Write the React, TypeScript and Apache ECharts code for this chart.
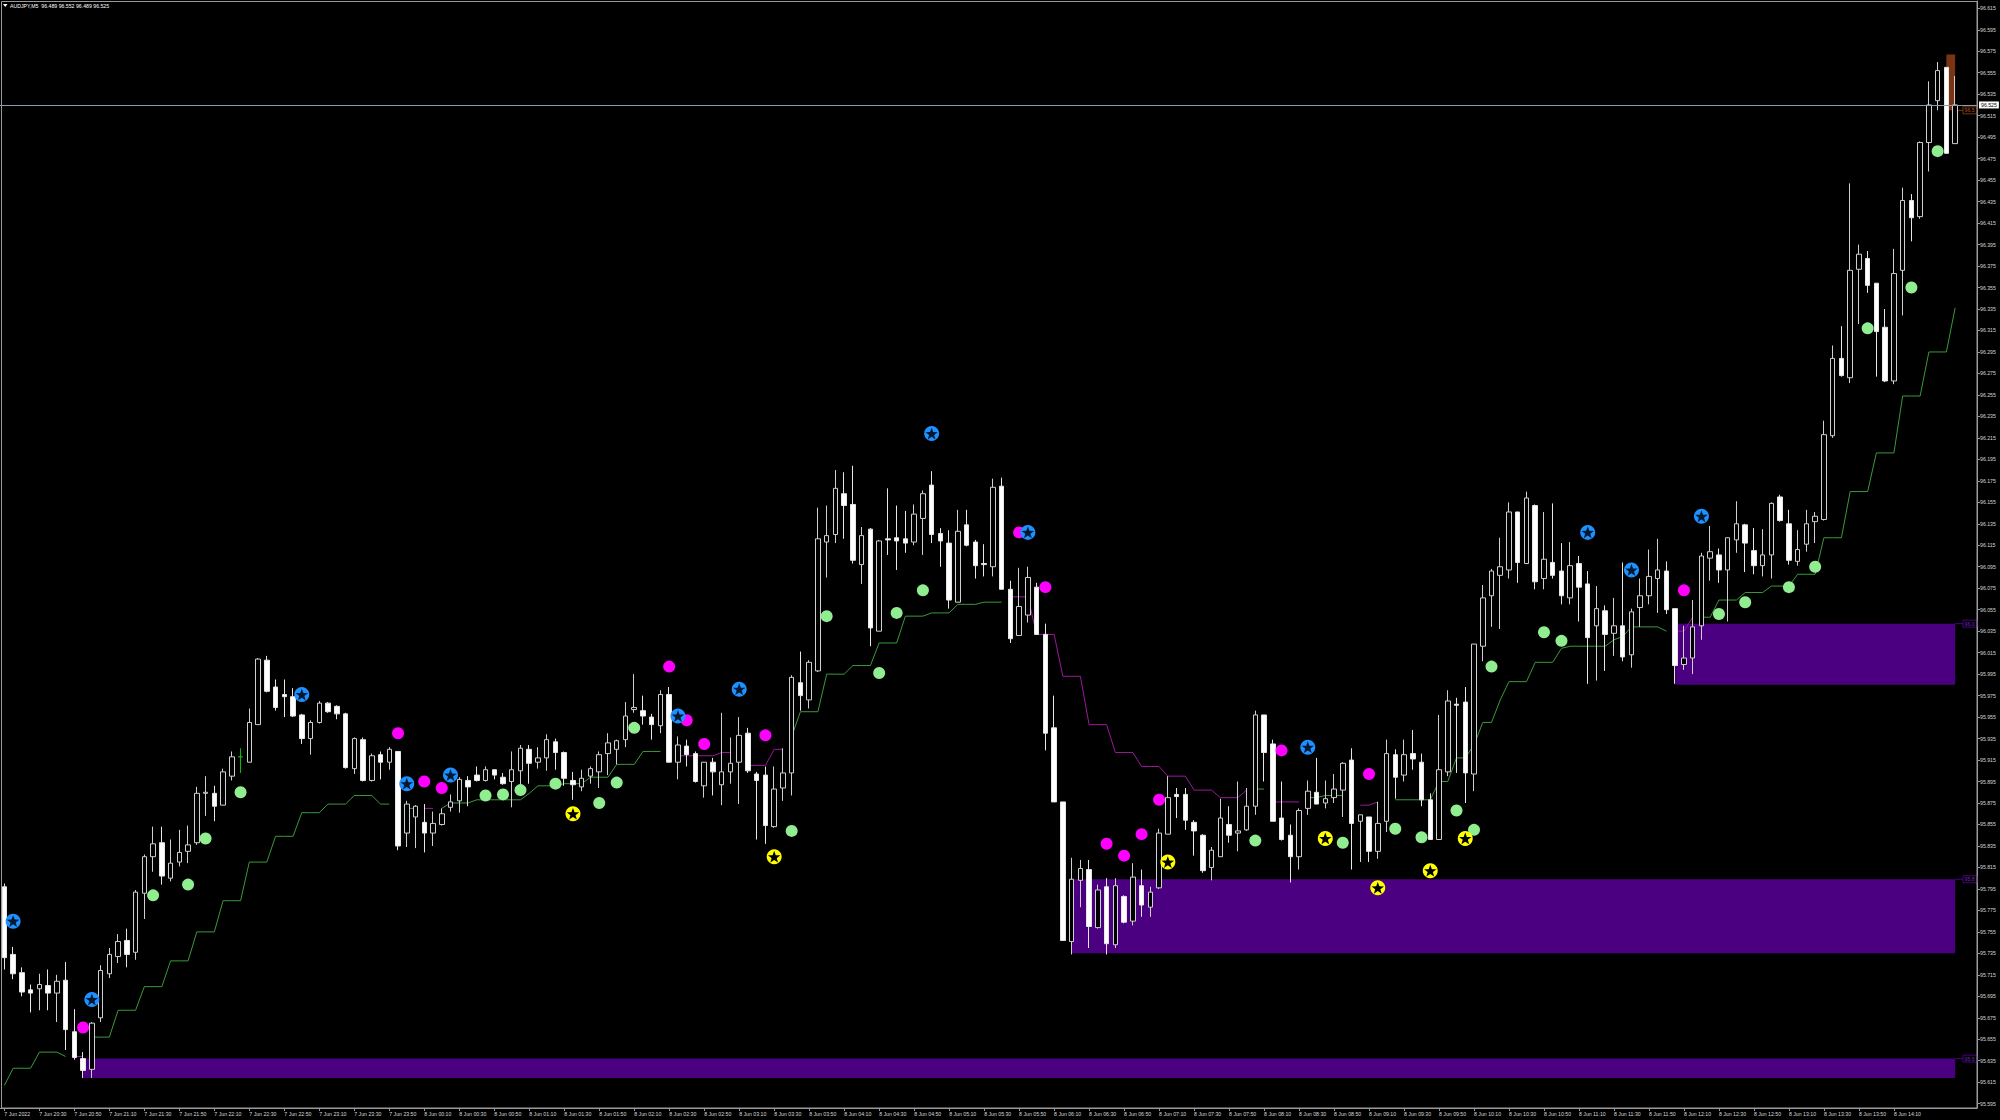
import React, { useEffect, useRef } from 'react';
import * as echarts from 'echarts';

const SYMBOL = 'AUDJPY';
const TIMEFRAME = 'M5';

const opens = [
  95.797,95.734,95.717,95.701,95.702,95.705,95.698,95.710,95.662,95.637,
  95.627,95.675,95.716,95.732,95.747,95.736,95.791,95.825,95.838,95.805,
  95.820,95.830,95.838,95.884,95.884,95.873,95.900,95.918,95.913,95.948,
  96.008,95.983,95.976,95.974,95.957,95.935,95.950,95.968,95.965,95.958,
  95.907,95.934,95.896,95.920,95.913,95.923,95.847,95.862,95.857,95.847,
  95.855,95.871,95.877,95.896,95.901,95.896,95.906,95.899,95.895,95.905,
  95.925,95.913,95.917,95.932,95.922,95.896,95.890,95.900,95.904,95.921,
  95.925,95.934,95.962,95.961,95.955,95.947,95.976,95.913,95.928,95.921,
  95.891,95.913,95.892,95.904,95.913,95.940,95.902,95.901,95.853,95.889,
  95.903,95.987,95.971,95.998,96.118,96.125,96.163,96.153,96.097,96.130,
  96.035,96.121,96.122,96.121,96.118,96.140,96.171,96.126,96.117,96.062,
  96.134,96.118,96.098,96.095,96.170,96.074,96.031,96.050,96.076,96.032,
  95.945,95.876,95.746,95.803,95.813,95.759,95.797,95.743,95.788,95.765,
  95.798,95.778,95.796,95.846,95.883,95.883,95.857,95.845,95.815,95.825,
  95.855,95.847,95.850,95.872,95.957,95.930,95.861,95.845,95.825,95.870,
  95.885,95.875,95.880,95.887,95.915,95.858,95.862,95.830,95.858,95.920,
  95.901,95.921,95.913,95.878,95.841,95.904,95.967,95.969,95.902,96.021,
  96.068,96.087,96.092,96.146,96.098,96.152,96.084,96.099,96.091,96.066,
  96.098,96.079,96.040,96.054,96.033,96.040,96.013,96.057,96.068,96.084,
  96.091,96.056,96.004,96.010,96.040,96.103,96.106,96.092,96.120,96.134,
  96.110,96.096,96.106,96.160,96.135,96.100,96.116,96.137,96.139,96.217,
  96.289,96.271,96.372,96.382,96.359,96.318,96.268,96.371,96.436,96.421,
  96.490,96.529,96.560,96.489
];

const highs = [
  95.800,95.741,95.722,95.706,95.716,95.720,95.715,95.727,95.683,95.643,
  95.671,95.724,95.740,95.753,95.758,95.794,95.827,95.853,95.853,95.841,
  95.850,95.854,95.890,95.900,95.891,95.907,95.923,95.926,95.963,96.010,
  96.012,95.990,95.990,95.982,95.958,95.952,95.970,95.969,95.966,95.959,
  95.936,95.936,95.921,95.923,95.927,95.923,95.877,95.873,95.874,95.867,
  95.870,95.883,95.899,95.900,95.909,95.909,95.906,95.903,95.923,95.929,
  95.929,95.927,95.939,95.935,95.923,95.904,95.906,95.909,95.923,95.940,
  95.934,95.969,95.995,95.975,95.958,95.980,95.983,95.937,95.934,95.923,
  95.913,95.917,95.959,95.936,95.955,95.945,95.904,95.909,95.909,95.926,
  95.994,96.016,96.008,96.150,96.152,96.185,96.183,96.189,96.132,96.131,
  96.120,96.168,96.152,96.147,96.153,96.166,96.184,96.131,96.129,96.148,
  96.148,96.120,96.116,96.177,96.178,96.082,96.094,96.095,96.080,96.042,
  95.975,95.876,95.824,95.822,95.822,95.799,95.805,95.805,95.789,95.819,
  95.813,95.797,95.851,95.900,95.889,95.889,95.859,95.846,95.834,95.879,
  95.872,95.895,95.889,95.961,95.957,95.934,95.895,95.855,95.870,95.896,
  95.917,95.896,95.902,95.913,95.926,95.864,95.862,95.876,95.934,95.925,
  95.934,95.943,95.921,95.884,95.957,95.980,95.973,95.983,96.023,96.078,
  96.093,96.122,96.155,96.146,96.165,96.153,96.146,96.154,96.117,96.118,
  96.105,96.091,96.077,96.059,96.066,96.099,96.056,96.084,96.111,96.121,
  96.100,96.056,96.040,96.064,96.108,96.133,96.112,96.122,96.156,96.135,
  96.131,96.130,96.155,96.162,96.148,96.129,96.148,96.146,96.231,96.301,
  96.319,96.452,96.395,96.389,96.359,96.335,96.391,96.448,96.442,96.491,
  96.547,96.565,96.560,96.552
];

const lows = [
  95.720,95.711,95.695,95.680,95.682,95.682,95.671,95.645,95.636,95.619,
  95.619,95.671,95.712,95.726,95.722,95.729,95.767,95.811,95.799,95.802,
  95.816,95.819,95.836,95.863,95.858,95.873,95.896,95.903,95.913,95.948,
  95.978,95.961,95.955,95.955,95.930,95.920,95.949,95.959,95.953,95.907,
  95.902,95.895,95.895,95.897,95.906,95.831,95.834,95.833,95.829,95.835,
  95.854,95.867,95.866,95.872,95.895,95.895,95.897,95.892,95.871,95.882,
  95.893,95.907,95.905,95.906,95.891,95.878,95.886,95.893,95.889,95.901,
  95.911,95.927,95.959,95.948,95.934,95.940,95.913,95.897,95.909,95.894,
  95.880,95.882,95.873,95.893,95.874,95.903,95.841,95.837,95.852,95.877,
  95.882,95.961,95.963,95.997,96.085,96.117,96.121,96.098,96.079,96.021,
  96.035,96.106,96.092,96.108,96.115,96.106,96.117,96.095,96.056,96.062,
  96.114,96.084,96.086,96.086,96.074,96.024,96.031,96.043,96.032,95.924,
  95.876,95.747,95.734,95.778,95.740,95.758,95.734,95.740,95.763,95.761,
  95.769,95.769,95.795,95.846,95.861,95.850,95.826,95.810,95.803,95.825,
  95.838,95.830,95.849,95.864,95.895,95.858,95.840,95.801,95.813,95.864,
  95.874,95.870,95.875,95.862,95.813,95.820,95.820,95.823,95.848,95.879,
  95.895,95.906,95.872,95.841,95.841,95.900,95.903,95.875,95.886,96.007,
  96.039,96.037,96.084,96.080,96.098,96.074,96.074,96.084,96.060,96.060,
  96.044,95.986,95.989,95.998,96.012,96.007,96.001,96.039,96.060,96.052,
  96.051,95.986,95.999,95.995,96.027,96.082,96.080,96.044,96.108,96.090,
  96.088,96.086,96.084,96.137,96.097,96.096,96.109,96.117,96.138,96.215,
  96.272,96.266,96.321,96.350,96.272,96.267,96.265,96.329,96.398,96.419,
  96.463,96.520,96.480,96.489
];

const closes = [
  95.731,95.716,95.699,95.698,95.706,95.698,95.709,95.664,95.638,95.626,
  95.670,95.719,95.734,95.746,95.734,95.792,95.825,95.837,95.807,95.819,
  95.829,95.836,95.884,95.885,95.872,95.904,95.918,95.918,95.950,96.009,
  95.979,95.964,95.974,95.956,95.935,95.950,95.968,95.960,95.958,95.908,
  95.935,95.896,95.919,95.913,95.925,95.835,95.874,95.872,95.847,95.856,
  95.865,95.876,95.897,95.890,95.896,95.906,95.901,95.893,95.906,95.926,
  95.912,95.917,95.934,95.922,95.898,95.892,95.898,95.907,95.920,95.931,
  95.933,95.956,95.964,95.956,95.948,95.976,95.913,95.929,95.920,95.895,
  95.913,95.904,95.904,95.912,95.938,95.905,95.896,95.854,95.888,95.903,
  95.992,95.975,96.006,96.121,96.124,96.168,96.152,96.101,96.124,96.038,
  96.119,96.120,96.119,96.117,96.144,96.163,96.125,96.119,96.064,96.128,
  96.115,96.096,96.097,96.169,96.074,96.028,96.058,96.085,96.032,95.940,
  95.876,95.747,95.804,95.814,95.760,95.794,95.744,95.798,95.764,95.806,
  95.780,95.792,95.847,95.880,95.881,95.859,95.849,95.812,95.831,95.861,
  95.845,95.849,95.872,95.957,95.922,95.858,95.841,95.825,95.868,95.886,
  95.874,95.879,95.888,95.912,95.856,95.864,95.830,95.856,95.921,95.899,
  95.920,95.916,95.878,95.841,95.906,95.970,95.966,95.903,96.023,96.066,
  96.091,96.095,96.146,96.099,96.159,96.081,96.102,96.087,96.068,96.096,
  96.076,96.029,96.056,96.032,96.040,96.011,96.053,96.068,96.086,96.092,
  96.055,96.003,96.010,96.039,96.105,96.109,96.092,96.122,96.135,96.117,
  96.096,96.106,96.154,96.138,96.101,96.111,96.135,96.142,96.218,96.289,
  96.273,96.371,96.386,96.357,96.314,96.268,96.368,96.436,96.420,96.490,
  96.525,96.557,96.480,96.525
];

// bars drawn in the "line" colour (open == close)
const dojiBars = [27];

// x-axis: one label every 4 bars (20 minutes)
const LABEL_STEP = 4;
const CATEGORY_COUNT = 226;
const timeLabels = [
  '7 Jun 2022','7 Jun 20:30','7 Jun 20:50','7 Jun 21:10','7 Jun 21:30','7 Jun 21:50','7 Jun 22:10','7 Jun 22:30',
  '7 Jun 22:50','7 Jun 23:10','7 Jun 23:30','7 Jun 23:50','8 Jun 00:10','8 Jun 00:30','8 Jun 00:50','8 Jun 01:10',
  '8 Jun 01:30','8 Jun 01:50','8 Jun 02:10','8 Jun 02:30','8 Jun 02:50','8 Jun 03:10','8 Jun 03:30','8 Jun 03:50',
  '8 Jun 04:10','8 Jun 04:30','8 Jun 04:50','8 Jun 05:10','8 Jun 05:30','8 Jun 05:50','8 Jun 06:10','8 Jun 06:30',
  '8 Jun 06:50','8 Jun 07:10','8 Jun 07:30','8 Jun 07:50','8 Jun 08:10','8 Jun 08:30','8 Jun 08:50','8 Jun 09:10',
  '8 Jun 09:30','8 Jun 09:50','8 Jun 10:10','8 Jun 10:30','8 Jun 10:50','8 Jun 11:10','8 Jun 11:30','8 Jun 11:50',
  '8 Jun 12:10','8 Jun 12:30','8 Jun 12:50','8 Jun 13:10','8 Jun 13:30','8 Jun 13:50','8 Jun 14:10','8 Jun 14:30'
];

// y-axis
const Y_MIN = 95.591;
const Y_MAX = 96.6218;
const yTicks = [
  95.595,95.615,95.635,95.655,95.675,95.695,95.715,95.735,95.755,95.775,95.795,95.815,95.835,95.855,
  95.875,95.895,95.915,95.935,95.955,95.975,95.995,96.015,96.035,96.055,96.075,96.095,96.115,96.135,
  96.155,96.175,96.195,96.215,96.235,96.255,96.275,96.295,96.315,96.335,96.355,96.375,96.395,96.415,
  96.435,96.455,96.475,96.495,96.515,96.535,96.555,96.575,96.595,96.615
];
const BID = 96.525;

// trailing stepped lines: [fromBar, toBar, price]
const greenSteps = [
  [0,0,95.612],[1,3,95.628],[4,6,95.643],[7,7,95.639],
  [10,12,95.657],[13,15,95.682],[16,18,95.704],[19,21,95.728],[22,24,95.755],[25,27,95.784],
  [28,30,95.820],[31,33,95.844],[34,36,95.866],[37,39,95.874],[40,42,95.882],[43,44,95.874],
  [46,47,95.870],[50,50,95.870],[51,53,95.875],[54,59,95.878],[60,60,95.884],[61,63,95.891],
  [64,66,95.893],[67,69,95.899],[70,72,95.911],[73,75,95.923],
  [90,90,95.937],[91,93,95.960],[94,96,95.995],[97,99,96.003],[100,102,96.024],[103,105,96.049],
  [106,108,96.052],[109,111,96.060],[112,114,96.062],
  [143,144,95.888],[149,150,95.880],[151,153,95.882],
  [159,163,95.878],[164,165,95.895],[166,167,95.917],[168,168,95.929],[169,170,95.950],[171,171,95.971],
  [172,174,95.988],[175,177,96.006],[178,178,96.019],[179,183,96.021],[184,184,96.027],[185,185,96.030],
  [186,189,96.039],[190,190,96.035],
  [194,195,96.048],[196,198,96.064],[199,201,96.071],[202,204,96.077],[205,207,96.088],[208,210,96.122],
  [211,213,96.165],[214,216,96.201],[217,219,96.254],[220,222,96.295],[223,223,96.336]
];
const purpleSteps = [
  [8,9,95.639],[48,49,95.870],[77,81,95.919],[82,83,95.922],[85,87,95.910],[88,89,95.925],
  [115,117,96.067],[118,120,96.032],[121,123,95.993],[124,126,95.948],[127,129,95.922],[130,132,95.909],
  [133,135,95.900],[136,138,95.887],[139,141,95.880],[142,142,95.887],[145,148,95.876],
  [155,156,95.873],[157,157,95.876],[191,192,96.035],[193,193,96.048]
];

// signal markers
const greenDotBars = [17,21,23,27,55,57,59,63,68,70,72,90,94,100,102,105,143,153,159,162,166,168,170,176,178,196,199,204,207,213,218,221];
const greenDotPrices = [95.789,95.799,95.842,95.885,95.882,95.883,95.887,95.893,95.875,95.894,95.945,95.849,96.049,95.996,96.052,96.073,95.840,95.838,95.851,95.843,95.868,95.850,96.002,96.034,96.026,96.051,96.062,96.076,96.095,96.317,96.355,96.482];
const magentaBars = [9,45,48,50,76,78,80,87,116,119,126,128,130,132,146,156,192];
const magentaPrices = [95.666,95.940,95.895,95.889,96.002,95.952,95.930,95.938,96.127,96.076,95.837,95.826,95.846,95.878,95.924,95.902,96.073];
const blueStarBars = [1,10,34,46,51,77,84,106,117,149,181,186,194];
const blueStarPrices = [95.765,95.692,95.976,95.893,95.901,95.956,95.981,96.219,96.127,95.927,96.127,96.092,96.142];
const yellowStarBars = [65,88,133,151,157,163,167];
const yellowStarPrices = [95.865,95.825,95.820,95.842,95.796,95.812,95.842];

// zones: start bar, end bar, top, bottom, label text, price of label
const zoneStart = [9, 122, 191, 222];
const zoneEnd = [223, 223, 223, 223];
const zoneTop = [95.637, 95.804, 96.042, 96.572];
const zoneBottom = [95.619, 95.735, 95.985, 96.520];
const zoneLabel = ['95.6', '95.8', '96.0', '96.5'];
const zoneLabelPrice = [95.637, 95.804, 96.042, 96.520];

const ZONE_FILL = ['#4b0082', '#4b0082', '#4b0082', '#7a3414'];
const ZONE_TEXT = ['#6a2cb0', '#6a2cb0', '#6a2cb0', '#a85a30'];
const FONT = 'Liberation Sans, Arial, sans-serif';
const STAR_PATH = 'path://M12,1 L14.9,8.9 L23.4,9.1 L16.7,14.3 L19.1,22.4 L12,17.6 L4.9,22.4 L7.3,14.3 L0.6,9.1 L9.1,8.9 Z';

function buildSteps(steps: number[][], n: number) {
  const arr: (number | null)[] = new Array(n).fill(null);
  steps.forEach(([a, b, v]) => {
    for (let i = a; i <= b; i++) arr[i] = v;
  });
  return arr;
}

function pairs(xs: number[], ys: number[]) {
  return xs.map((x, i) => [x, ys[i]]);
}

function scatter(name: string, bars: number[], prices: number[], symbol: string, size: number, color: string, z: number) {
  return {
    type: 'scatter',
    name,
    z,
    silent: true,
    symbol,
    symbolKeepAspect: true,
    symbolSize: size,
    itemStyle: { color, opacity: 1 },
    emphasis: { disabled: true },
    data: pairs(bars, prices),
  };
}

function buildOption() {
  const n = opens.length;
  const categories = Array.from({ length: CATEGORY_COUNT }, (_, i) => String(i));
  const candleData = opens.map((o, i) => {
    const value = [o, closes[i], lows[i], highs[i]];
    if (dojiBars.includes(i)) {
      return { value, itemStyle: { color: '#00c000', color0: '#00c000', borderColor: '#00c000', borderColor0: '#00c000' } };
    }
    return value;
  });
  const showTick = (idx: number) => idx % LABEL_STEP === 0 && idx / LABEL_STEP < timeLabels.length;
  const last = n - 1;
  const title = `${SYMBOL},${TIMEFRAME}  ${opens[last].toFixed(3)} ${highs[last].toFixed(3)} ${lows[last].toFixed(3)} ${closes[last].toFixed(3)}`;
  const zoneData = zoneStart.map((s, i) => [s, zoneEnd[i], zoneTop[i], zoneBottom[i]]);

  return {
    animation: false,
    backgroundColor: '#000000',
    grid: { left: -2, right: 23, top: 1, bottom: 12, containLabel: false },
    xAxis: {
      type: 'category',
      data: categories,
      boundaryGap: true,
      axisLine: { show: true, lineStyle: { color: '#9a9a9a', width: 1 } },
      axisTick: { show: true, alignWithLabel: true, interval: showTick, length: 3, lineStyle: { color: '#9a9a9a' } },
      axisLabel: {
        interval: showTick,
        showMaxLabel: false,
        showMinLabel: true,
        formatter: (_v: string, idx: number) => timeLabels[idx / LABEL_STEP] || '',
        align: 'left',
        color: '#d8d8d8',
        fontSize: 5.2,
        fontFamily: FONT,
        margin: 3,
      },
      splitLine: { show: false },
    },
    yAxis: {
      type: 'value',
      position: 'right',
      min: Y_MIN,
      max: Y_MAX,
      scale: true,
      splitLine: { show: false },
      axisLine: { show: true, lineStyle: { color: '#9a9a9a', width: 1 } },
      axisTick: { show: true, length: 3, customValues: yTicks, lineStyle: { color: '#9a9a9a' } },
      axisLabel: {
        customValues: yTicks,
        formatter: (v: number) => v.toFixed(3),
        color: '#d8d8d8',
        fontSize: 5.2,
        fontFamily: FONT,
        margin: 3,
      },
    },
    graphic: [
      {
        type: 'rect',
        silent: true,
        z: 100,
        shape: { x: 1.5, y: 1.5, width: 1975.5, height: 1106.5 },
        style: { fill: 'transparent', stroke: '#9a9a9a', lineWidth: 1 },
      },
      {
        type: 'polygon',
        silent: true,
        z: 100,
        shape: { points: [[3, 4], [7.5, 4], [5.25, 7]] },
        style: { fill: '#ffffff' },
      },
      {
        type: 'text',
        silent: true,
        z: 100,
        x: 10,
        y: 5.8,
        style: { text: title, fill: '#ffffff', fontSize: 5.2, fontFamily: FONT, verticalAlign: 'middle' },
      },
    ],
    series: [
      {
        type: 'custom',
        name: 'zones',
        z: 1,
        silent: true,
        data: zoneData,
        encode: { x: [0, 1], y: [2, 3] },
        renderItem: (params: any, api: any) => {
          const i = params.dataIndex;
          const p1 = api.coord([api.value(0), api.value(2)]);
          const p2 = api.coord([api.value(1), api.value(3)]);
          const ly = api.coord([api.value(1), zoneLabelPrice[i]])[1];
          const right = params.coordSys.x + params.coordSys.width;
          const bw = 14;
          return {
            type: 'group',
            children: [
              {
                type: 'rect',
                shape: { x: p1[0], y: Math.min(p1[1], p2[1]), width: p2[0] - p1[0], height: Math.abs(p2[1] - p1[1]) },
                style: { fill: ZONE_FILL[i] },
              },
              {
                type: 'line',
                shape: { x1: p2[0], y1: ly, x2: right - bw, y2: ly },
                style: { stroke: ZONE_FILL[i], lineWidth: 1 },
              },
              {
                type: 'rect',
                shape: { x: right - bw, y: ly - 3.5, width: bw, height: 7 },
                style: { fill: '#000000', stroke: ZONE_FILL[i], lineWidth: 1 },
              },
              {
                type: 'text',
                x: right - bw + 1.5,
                y: ly,
                style: { text: zoneLabel[i], fill: ZONE_TEXT[i], fontSize: 5.2, fontFamily: FONT, verticalAlign: 'middle' },
              },
            ],
          };
        },
      },
      {
        type: 'line',
        name: 'trail up',
        z: 2,
        data: buildSteps(greenSteps, n),
        symbol: 'none',
        connectNulls: false,
        lineStyle: { color: '#3a9a3a', width: 1 },
        silent: true,
      },
      {
        type: 'line',
        name: 'trail down',
        z: 2,
        data: buildSteps(purpleSteps, n),
        symbol: 'none',
        connectNulls: false,
        lineStyle: { color: '#9c189c', width: 1 },
        silent: true,
      },
      {
        type: 'candlestick',
        name: SYMBOL,
        z: 3,
        barWidth: 5,
        data: candleData,
        itemStyle: {
          color: '#000000',
          color0: '#ffffff',
          borderColor: '#cfcfcf',
          borderColor0: '#e6e6e6',
          borderWidth: 1,
        },
        markLine: {
          silent: true,
          precision: 3,
          symbol: ['none', 'none'],
          data: [
            {
              yAxis: BID,
              lineStyle: { color: '#8a9aa8', width: 1, type: 'solid' },
              label: {
                show: true,
                position: 'end',
                distance: 2,
                formatter: BID.toFixed(3),
                backgroundColor: '#ffffff',
                color: '#000000',
                fontSize: 5.2,
                fontFamily: FONT,
                padding: [1, 2, 1, 2],
              },
            },
          ],
        },
      },
      scatter('buy dots', greenDotBars, greenDotPrices, 'circle', 12, '#90ee90', 4),
      scatter('sell dots', magentaBars, magentaPrices, 'circle', 12, '#ff00ff', 4),
      scatter('blue stars', blueStarBars, blueStarPrices, 'circle', 15, '#1e90ff', 4),
      scatter('blue stars inner', blueStarBars, blueStarPrices, STAR_PATH, 12.5, '#001a33', 5),
      scatter('yellow stars', yellowStarBars, yellowStarPrices, 'circle', 15, '#ffff00', 4),
      scatter('yellow stars inner', yellowStarBars, yellowStarPrices, STAR_PATH, 12.5, '#000000', 5),
    ],
  };
}

export default function App() {
  const ref = useRef<HTMLDivElement>(null);
  useEffect(() => {
    document.body.style.margin = '0';
    document.body.style.background = '#000';
    const chart = echarts.init(ref.current as HTMLDivElement, null, { renderer: 'svg' });
    chart.setOption(buildOption() as any);
    return () => chart.dispose();
  }, []);
  return (
    <div
      ref={ref}
      style={{ position: 'absolute', left: 0, top: 0, width: 2000, height: 1120, background: '#000' }}
    />
  );
}
